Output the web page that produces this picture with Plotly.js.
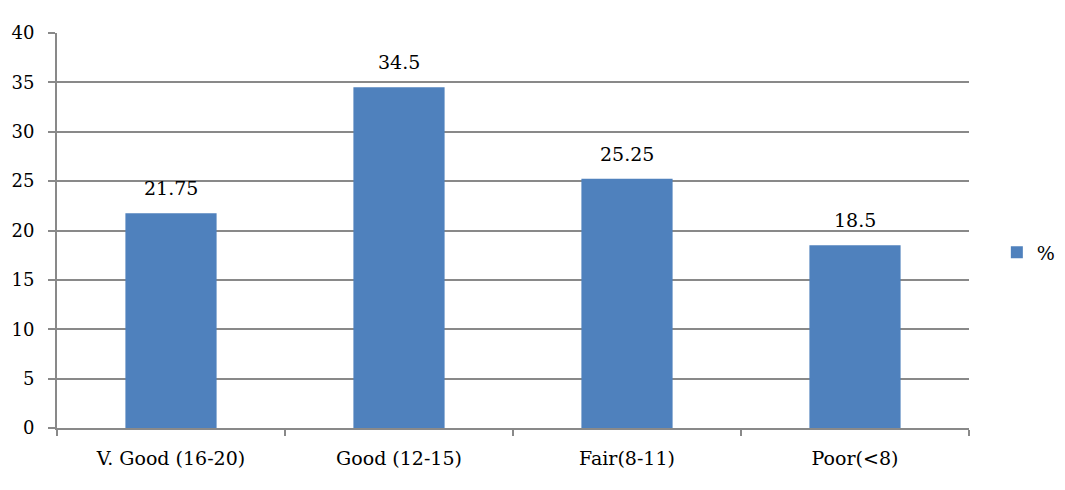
<!DOCTYPE html>
<html>
<head>
<meta charset="utf-8">
<script src="https://cdn.plot.ly/plotly-3.0.1.min.js"></script>
<style>
  html, body { margin: 0; padding: 0; background: #fff; }
  #chart { width: 1065px; height: 490px; }
</style>
</head>
<body>
<div id="chart"></div>
<script>
// grade bands and share of students (%)
var grades = ['V. Good (16-20)', 'Good (12-15)', 'Fair(8-11)', 'Poor(<8)'];
var percent = [21.75, 34.5, 25.25, 18.5];
var labels = ['21.75', '34.5', '25.25', '18.5'];

var axisGray = '#898989';
var fontFamily = 'DejaVu Serif, serif';

var trace = {
  type: 'bar',
  name: '%',
  x: grades,
  y: percent,
  marker: { color: '#4F81BD' },
  hoverinfo: 'x+y',
};

// NOTE: value labels as annotations so they can float a bit higher than textposition allows
var valueNotes = grades.map(function (g, i) {
  return {
    x: g,
    y: percent[i],
    xref: 'x',
    yref: 'y',
    text: labels[i],
    showarrow: false,
    yanchor: 'bottom',
    yshift: 12,
    font: { family: fontFamily, size: 19, color: '#000000' },
  };
});

var layout = {
  width: 1065,
  height: 490,
  margin: { l: 57, r: 96, t: 33, b: 62 },
  paper_bgcolor: '#ffffff',
  plot_bgcolor: '#ffffff',
  font: { family: fontFamily, size: 18, color: '#000000' },
  bargap: 0.6,
  showlegend: true,
  legend: {
    xref: 'container',
    yref: 'container',
    x: 0.936,
    y: 0.485,
    xanchor: 'left',
    yanchor: 'middle',
    font: { family: fontFamily, size: 19, color: '#000000' },
    itemwidth: 30,
  },
  annotations: valueNotes,
  xaxis: {
    type: 'category',
    showline: true,
    linecolor: axisGray,
    linewidth: 2,
    ticks: 'outside',
    tickson: 'boundaries',
    ticklen: 6,
    tickwidth: 2,
    tickcolor: axisGray,
    ticklabelstandoff: 12,
    tickfont: { family: fontFamily, size: 19, color: '#000000' },
    showgrid: false,
    fixedrange: true,
  },
  yaxis: {
    range: [0, 40],
    dtick: 5,
    showline: true,
    linecolor: axisGray,
    linewidth: 2,
    ticks: 'outside',
    ticklen: 7,
    tickwidth: 2,
    tickcolor: axisGray,
    ticklabelstandoff: 10,
    tickfont: { family: fontFamily, size: 18, color: '#000000' },
    showgrid: true,
    gridcolor: axisGray,
    gridwidth: 2,
    zeroline: false,
    fixedrange: true,
  },
};

Plotly.newPlot('chart', [trace], layout, { displayModeBar: false, staticPlot: true });
</script>
</body>
</html>
